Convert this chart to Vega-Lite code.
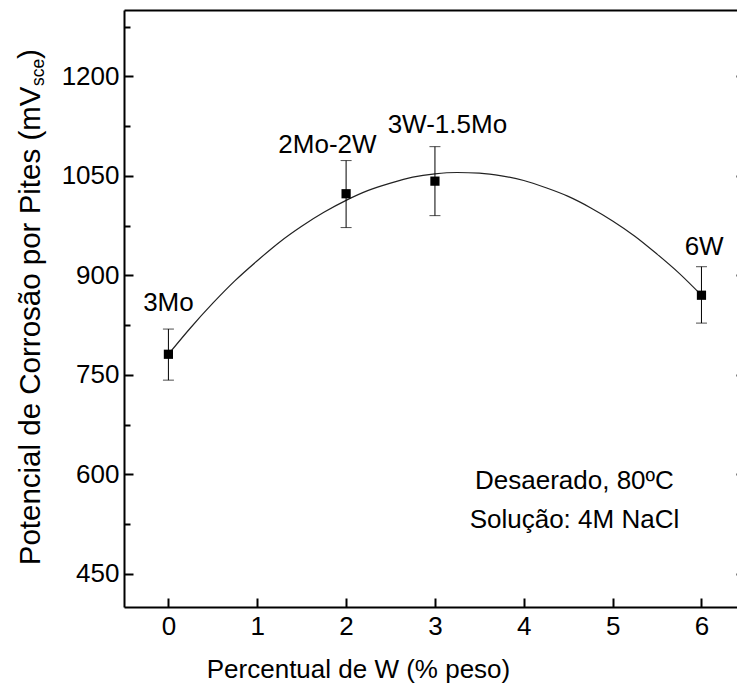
{
  "$schema": "https://vega.github.io/schema/vega-lite/v6.json",
  "autosize": {"type": "none"},
  "padding": {"left": 124, "top": 10, "right": 0, "bottom": 84},
  "width": 613,
  "height": 597,
  "config": {
    "view": {"stroke": null},
    "font": "Liberation Sans",
    "axis": {"labelFont": "Liberation Sans", "titleFont": "Liberation Sans", "labelColor": "black", "titleColor": "black", "domainColor": "black", "tickColor": "black", "grid": false, "titleFontWeight": "normal"},
    "text": {"font": "Liberation Sans"}
  },
  "datasets": {
    "curve": [
      {"x": 0, "y": 781}, {"x": 0.25, "y": 821}, {"x": 0.5, "y": 858}, {"x": 0.75, "y": 892},
      {"x": 1, "y": 922}, {"x": 1.25, "y": 950}, {"x": 1.5, "y": 974}, {"x": 1.75, "y": 995},
      {"x": 2, "y": 1013}, {"x": 2.25, "y": 1028}, {"x": 2.5, "y": 1039}, {"x": 2.75, "y": 1048},
      {"x": 3, "y": 1053}, {"x": 3.25, "y": 1055}, {"x": 3.5, "y": 1054}, {"x": 3.75, "y": 1050},
      {"x": 4, "y": 1043}, {"x": 4.25, "y": 1032}, {"x": 4.5, "y": 1019}, {"x": 4.75, "y": 1002},
      {"x": 5, "y": 982}, {"x": 5.25, "y": 959}, {"x": 5.5, "y": 932}, {"x": 5.75, "y": 903},
      {"x": 6, "y": 870}
    ],
    "points": [
      {"label": "3Mo", "x": 0, "y": 781, "lo": 742, "hi": 819},
      {"label": "2Mo-2W", "x": 2, "y": 1023, "lo": 972, "hi": 1073},
      {"label": "3W-1.5Mo", "x": 3, "y": 1042, "lo": 990, "hi": 1094},
      {"label": "6W", "x": 6, "y": 870, "lo": 828, "hi": 913}
    ],
    "labels": [
      {"text": "3Mo", "x": 0, "y": 846},
      {"text": "2Mo-2W", "x": 1.79, "y": 1084},
      {"text": "3W-1.5Mo", "x": 3.14, "y": 1115},
      {"text": "6W", "x": 6.03, "y": 931}
    ],
    "notes": [
      {"text": "Desaerado, 80ºC", "x": 4.57, "y": 578},
      {"text": "Solução: 4M NaCl", "x": 4.57, "y": 519}
    ],
    "sub": [{"t": "sce"}]
  },
  "layer": [
    {
      "data": {"name": "curve"},
      "mark": {"type": "line", "color": "#222222", "strokeWidth": 1.2, "interpolate": "monotone"},
      "encoding": {
        "x": {"field": "x", "type": "quantitative", "scale": {"domain": [-0.5, 6.4], "nice": false, "zero": false},
          "axis": {"orient": "bottom", "values": [0, 1, 2, 3, 4, 5, 6], "format": "d", "tickSize": -9, "tickWidth": 2, "domainWidth": 2, "labelFontSize": 26, "labelBaseline": "alphabetic", "labelPadding": 36,
            "title": "Percentual de W (% peso)", "titleFontSize": 26, "titleX": 234, "titleY": 70, "titleBaseline": "alphabetic", "titleAlign": "center"}},
        "y": {"field": "y", "type": "quantitative", "scale": {"domain": [400, 1300], "nice": false, "zero": false},
          "axis": {"orient": "left", "values": [450, 600, 750, 900, 1050, 1200], "format": "d", "tickSize": -9, "tickWidth": 2, "domainWidth": 2, "labelFontSize": 26, "labelPadding": 14,
            "title": "Potencial de Corrosão por Pites (mV", "titleFontSize": 29.5, "titleAngle": -90, "titleAlign": "right", "titleBaseline": "alphabetic", "titleX": -85, "titleY": 76}}
      }
    },
    {
      "data": {"name": "points"},
      "mark": {"type": "errorbar", "ticks": {"size": 11, "color": "black"}, "rule": {"color": "black", "strokeWidth": 1}},
      "encoding": {
        "x": {"field": "x", "type": "quantitative", "scale": {"domain": [-0.5, 6.4], "nice": false, "zero": false},
          "axis": {"orient": "top", "domain": true, "domainWidth": 2, "ticks": false, "labels": false, "title": null}},
        "y": {"field": "lo", "type": "quantitative", "scale": {"domain": [400, 1300], "nice": false, "zero": false}, "axis": null},
        "y2": {"field": "hi"}
      }
    },
    {
      "data": {"name": "points"},
      "mark": {"type": "square", "size": 85, "filled": true, "color": "black", "opacity": 1},
      "encoding": {
        "x": {"field": "x", "type": "quantitative", "scale": {"domain": [-0.5, 6.4], "nice": false, "zero": false}, "axis": null},
        "y": {"field": "y", "type": "quantitative", "scale": {"domain": [400, 1300], "nice": false, "zero": false},
          "axis": {"orient": "right", "values": [450, 600, 750, 900, 1050, 1200], "tickSize": -9, "tickWidth": 2, "offset": 8, "labels": false, "domain": false, "title": null}}
      }
    },
    {
      "data": {"name": "labels"},
      "mark": {"type": "text", "fontSize": 26, "align": "center", "baseline": "alphabetic", "color": "black"},
      "encoding": {
        "x": {"field": "x", "type": "quantitative", "scale": {"domain": [-0.5, 6.4], "nice": false, "zero": false}, "axis": null},
        "y": {"field": "y", "type": "quantitative", "scale": {"domain": [400, 1300], "nice": false, "zero": false},
          "axis": {"orient": "left", "values": [525, 675, 825, 975, 1125, 1275], "tickSize": -6, "tickWidth": 2, "labels": false, "domain": false, "title": null}},
        "text": {"field": "text"}
      }
    },
    {
      "data": {"name": "notes"},
      "mark": {"type": "text", "fontSize": 26, "align": "center", "baseline": "alphabetic", "color": "black"},
      "encoding": {
        "x": {"field": "x", "type": "quantitative", "axis": null},
        "y": {"field": "y", "type": "quantitative", "axis": null},
        "text": {"field": "text"}
      }
    },
    {
      "data": {"name": "sub"},
      "mark": {"type": "text", "fontSize": 17.5, "angle": -90, "align": "left", "baseline": "alphabetic", "color": "black", "dx": -76, "dy": -80},
      "encoding": {
        "x": {"datum": -0.5, "type": "quantitative", "axis": null},
        "y": {"datum": 1300, "type": "quantitative", "axis": null},
        "text": {"field": "t"}
      }
    },
    {
      "data": {"name": "sub"},
      "mark": {"type": "text", "fontSize": 29.5, "angle": -90, "align": "left", "baseline": "alphabetic", "color": "black", "dx": -49, "dy": -85, "text": ")"},
      "encoding": {
        "x": {"datum": -0.5, "type": "quantitative", "axis": null},
        "y": {"datum": 1300, "type": "quantitative", "axis": null}
      }
    }
  ],
  "resolve": {"axis": {"x": "independent", "y": "independent"}}
}
